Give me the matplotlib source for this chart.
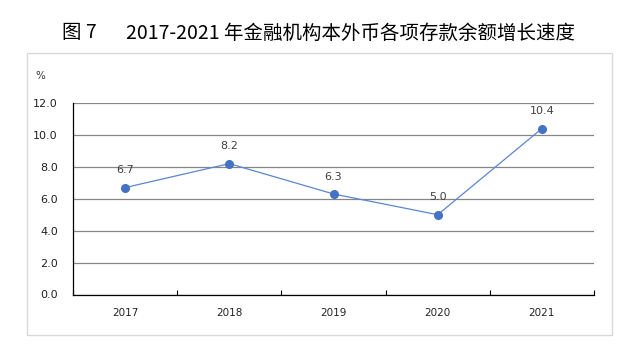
import matplotlib
matplotlib.use('Agg')
import matplotlib.pyplot as plt
from matplotlib.patches import Rectangle
import numpy as np

plt.rcParams['font.family'] = ['Noto Sans CJK SC', 'DejaVu Sans']

# deposit growth of financial institutions, local + foreign currency (%)
years = ['2017', '2018', '2019', '2020', '2021']
growth = [6.7, 8.2, 6.3, 5.0, 10.4]
yticks = [0, 2, 4, 6, 8, 10, 12]

W, H = 636, 346
num_font = 'DejaVu Sans'
fig = plt.figure(figsize=(W / 100, H / 100), dpi=100)

# light frame around the chart body
fig.patches.append(Rectangle((27 / W, 1 - 335 / H), (612 - 27) / W, (335 - 53) / H,
                             transform=fig.transFigure, fill=False,
                             edgecolor='#d9d9d9', linewidth=1.0))

# title
fig.text(62 / W, 1 - 33 / H, '图 7', fontsize=14, ha='left', va='center',
         family=['Noto Sans CJK SC', 'DejaVu Sans'])
fig.text(126 / W, 1 - 33 / H, '2017-2021 年金融机构本外币各项存款余额增长速度',
         fontsize=14, ha='left', va='center',
         family=['Noto Sans CJK SC', 'DejaVu Sans'])

ax = fig.add_axes([73 / W, 1 - 294.5 / H, (594 - 73) / W, (294.5 - 103) / H])

x = np.arange(len(years))
ax.plot(x, growth, color='#5b86d0', linewidth=0.9, zorder=3)
ax.plot(x, growth, linestyle='none', marker='o', markersize=5.5,
        color='#4472c4', zorder=4)

for xi, v in zip(x, growth):
    ax.annotate(f'{v:.1f}', (xi, v), xytext=(0, 12.5), textcoords='offset points',
                ha='center', va='center', fontsize=8, family=num_font,
                color='#404040')

ax.set_xlim(-0.5, len(years) - 0.5)
ax.set_ylim(0, 12)
ax.set_yticks(yticks)
ax.set_yticklabels([f'{t:.1f}' for t in yticks], fontsize=8, family=num_font,
                   color='#222222')
ax.set_xticks(x)
ax.set_xticklabels(years, fontsize=7.5, family=num_font, color='#222222')
ax.set_xticks(np.arange(len(years) + 1) - 0.5, minor=True)

ax.tick_params(axis='y', length=0, pad=11)
ax.tick_params(axis='x', which='major', length=0, pad=10)
ax.tick_params(axis='x', which='minor', direction='in', length=3.5, width=0.8)

ax.grid(axis='y', color='#868686', linewidth=0.9)
ax.set_axisbelow(True)
for side in ['top', 'right']:
    ax.spines[side].set_visible(False)
for side in ['left', 'bottom']:
    ax.spines[side].set_color('black')
    ax.spines[side].set_linewidth(0.9)

fig.text(40 / W, 1 - 76 / H, '%', fontsize=7.5, ha='center', va='center',
         family=num_font, color='#333333')

fig.savefig('out.png', dpi=100)
